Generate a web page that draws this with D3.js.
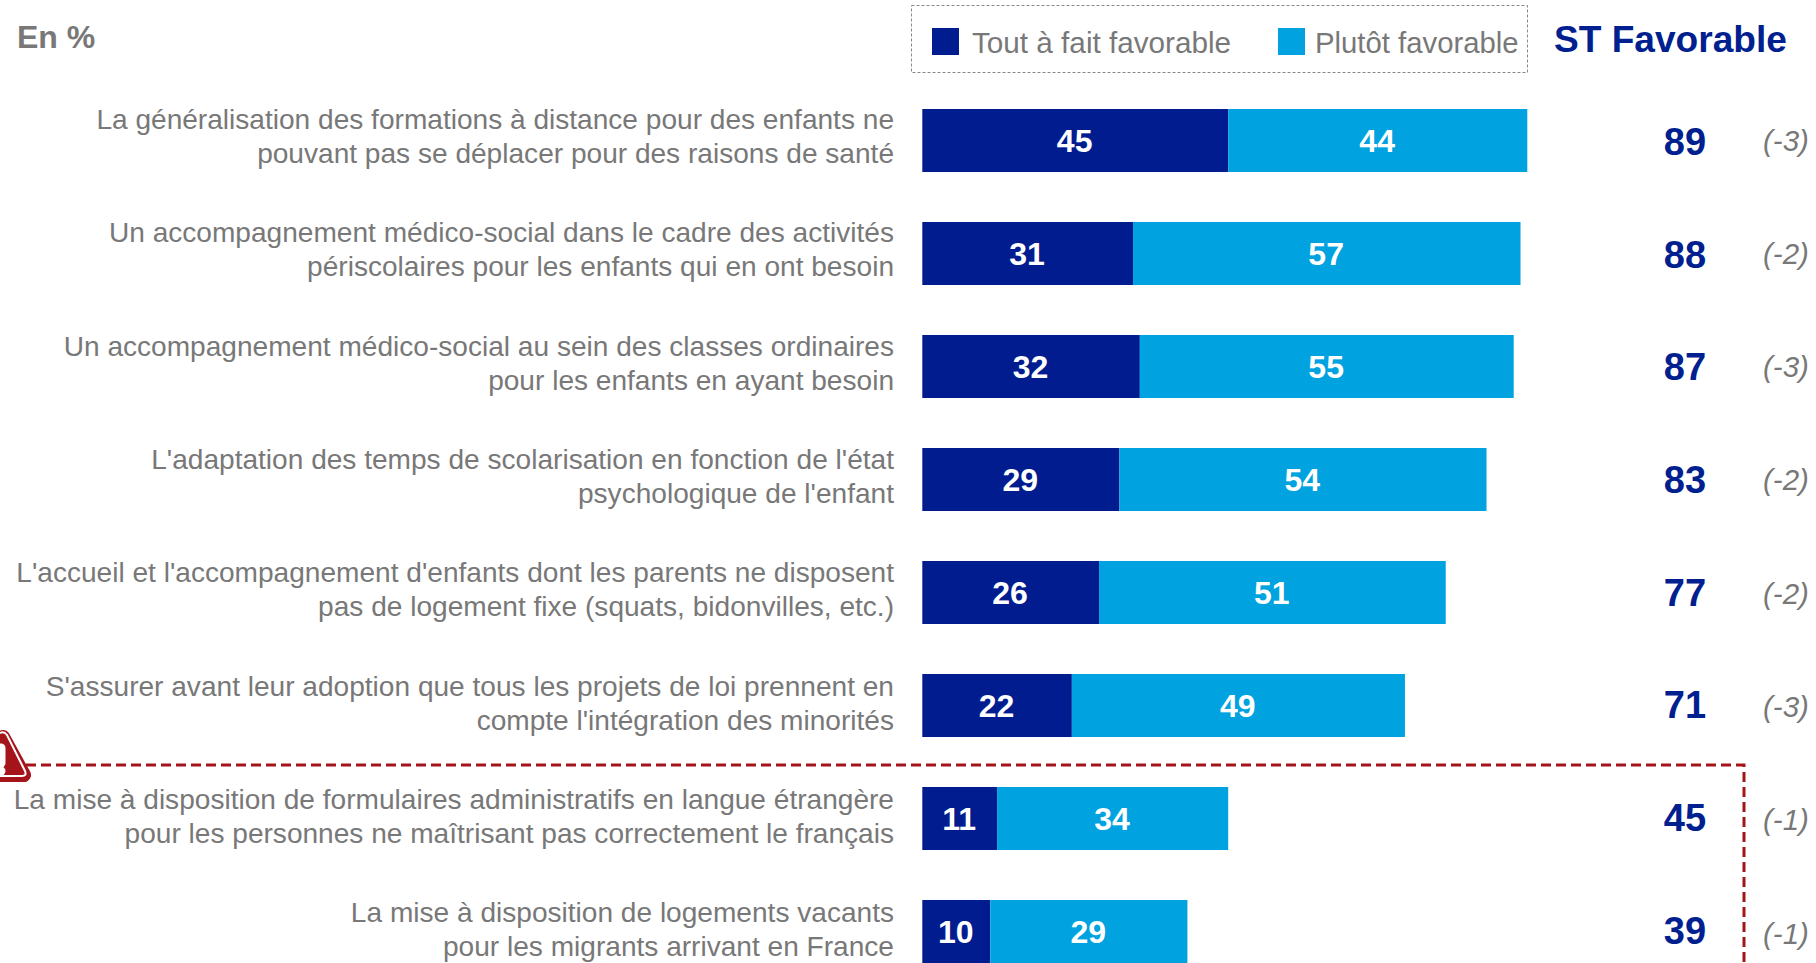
<!DOCTYPE html>
<html lang="fr"><head><meta charset="utf-8">
<style>html,body{margin:0;padding:0;background:#fff;overflow:hidden}svg{display:block;font-family:"Liberation Sans",Arial,sans-serif}</style>
<script src="https://cdn.jsdelivr.net/npm/d3@7"></script></head><body><svg id="c" width="1816" height="963"></svg>
<script>
const categories=[
 ["La généralisation des formations à distance pour des enfants ne","pouvant pas se déplacer pour des raisons de santé"],
 ["Un accompagnement médico-social dans le cadre des activités","périscolaires pour les enfants qui en ont besoin"],
 ["Un accompagnement médico-social au sein des classes ordinaires","pour les enfants en ayant besoin"],
 ["L'adaptation des temps de scolarisation en fonction de l'état","psychologique de l'enfant"],
 ["L'accueil et l'accompagnement d'enfants dont les parents ne disposent","pas de logement fixe (squats, bidonvilles, etc.)"],
 ["S'assurer avant leur adoption que tous les projets de loi prennent en","compte l'intégration des minorités"],
 ["La mise à disposition de formulaires administratifs en langue étrangère","pour les personnes ne maîtrisant pas correctement le français"],
 ["La mise à disposition de logements vacants","pour les migrants arrivant en France"]];
const toutAFait=[45,31,32,29,26,22,11,10];
const plutot=[44,57,55,54,51,49,34,29];
const stFavorable=[89,88,87,83,77,71,45,39];
const evolution=["(-3)","(-2)","(-3)","(-2)","(-2)","(-3)","(-1)","(-1)"];
const seriesNames=["Tout à fait favorable","Plutôt favorable"];
const colors=["#001C8F","#00A2E0"];
const GREY="#787878",NAVY="#00208F",RED="#A5141A";

const svg=d3.select("#c");
const x=d3.scaleLinear().domain([0,89]).range([922.3,1527.3]);
const y=d3.scaleBand().domain(d3.range(categories.length)).range([109,963]).paddingInner(50/113).paddingOuter(0);
const rows=svg.selectAll("g.row").data(categories).join("g").attr("class","row");
const mid=i=>y(i)+y.bandwidth()/2;

rows.append("text").attr("text-anchor","end").attr("font-size",28.08).attr("fill",GREY)
 .selectAll("tspan").data((d,i)=>d.map((t,j)=>({t,i,j}))).join("tspan")
 .attr("x",894).attr("y",d=>mid(d.i)+(d.j===0?-11.6:22.4)+d.i*0.33).text(d=>d.t);

rows.append("rect").attr("x",x(0)).attr("y",(d,i)=>y(i)).attr("height",y.bandwidth())
 .attr("width",(d,i)=>x(toutAFait[i])-x(0)).attr("fill",colors[0]);
rows.append("rect").attr("x",(d,i)=>x(toutAFait[i])).attr("y",(d,i)=>y(i)).attr("height",y.bandwidth())
 .attr("width",(d,i)=>x(toutAFait[i]+plutot[i])-x(toutAFait[i])).attr("fill",colors[1]);

const valueLabel=(fn,val)=>rows.append("text").attr("text-anchor","middle").attr("font-size",32).attr("font-weight","bold").attr("fill","#fff")
 .attr("x",fn).attr("y",(d,i)=>mid(i)+11).text(val);
valueLabel((d,i)=>x(toutAFait[i]/2)-0.6,(d,i)=>toutAFait[i]);
valueLabel((d,i)=>x(toutAFait[i]+plutot[i]/2)-0.6,(d,i)=>plutot[i]);

rows.append("text").attr("text-anchor","middle").attr("x",1685).attr("y",(d,i)=>mid(i)+14.3-i*0.3)
 .attr("font-size",38).attr("font-weight","bold").attr("fill",NAVY).text((d,i)=>stFavorable[i]);
rows.append("text").attr("x",1763).attr("y",(d,i)=>mid(i)+10+i*0.3).attr("font-size",29.5).attr("font-style","italic").attr("fill",GREY).text((d,i)=>evolution[i]);

svg.append("text").attr("x",17).attr("y",48).attr("font-size",32).attr("font-weight","bold").attr("fill",GREY).text("En %");
svg.append("rect").attr("x",911.5).attr("y",5.5).attr("width",616).attr("height",67).attr("fill","none").attr("stroke","#888").attr("stroke-dasharray","3 2");
const legendX=[932,1278];
const legendTextX=[972,1315];
const legendSize=[29.7,29.3];
seriesNames.forEach((s,i)=>{
 svg.append("rect").attr("x",legendX[i]).attr("y",28).attr("width",27).attr("height",27).attr("fill",colors[i]);
 svg.append("text").attr("x",legendTextX[i]).attr("y",53).attr("font-size",legendSize[i]).attr("fill",GREY).text(s);
});
svg.append("text").attr("x",1554).attr("y",52).attr("font-size",37.1).attr("font-weight","bold").attr("fill",NAVY).text("ST Favorable");

svg.append("path").attr("d","M26,765H1744V963").attr("fill","none").attr("stroke",RED).attr("stroke-width",3).attr("stroke-dasharray","10 5");
svg.append("path").attr("d","M3,737L24,775H-18Z").attr("fill",RED).attr("stroke",RED).attr("stroke-width",14).attr("stroke-linejoin","round");
svg.append("path").attr("d","M0,733Q4,731 7,735L25,771Q27,776 22,776H-20").attr("fill","none").attr("stroke","#fff").attr("stroke-width",2);
svg.append("path").attr("d","M1,748V763").attr("stroke","#fff").attr("stroke-width",9).attr("stroke-linecap","round");
svg.append("circle").attr("cx",1).attr("cy",771).attr("r",4.5).attr("fill","#fff");
</script></body></html>
